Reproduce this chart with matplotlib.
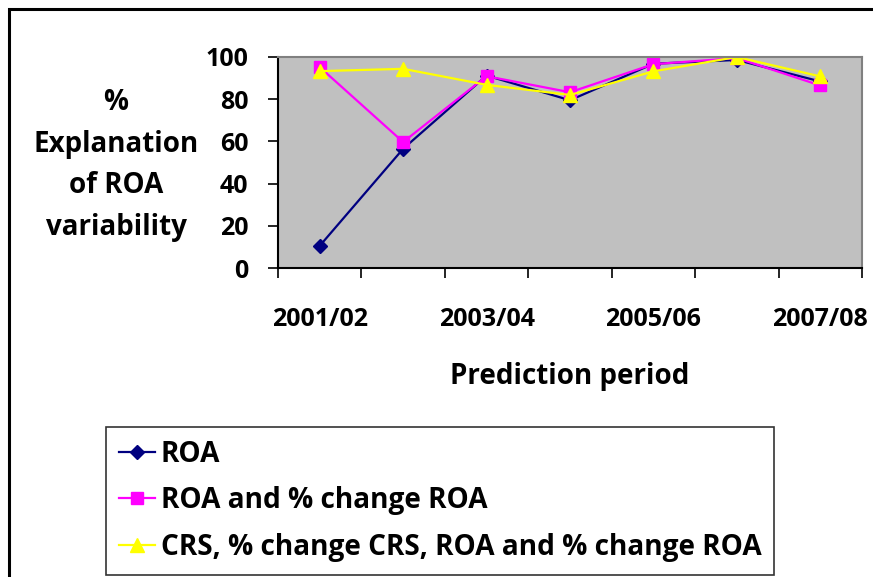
import numpy as np
import matplotlib
matplotlib.use("Agg")
import matplotlib.pyplot as plt
from matplotlib.patches import Rectangle

plt.rcParams['font.family'] = ['Open Sans', 'DejaVu Sans']
plt.rcParams['font.weight'] = 'bold'

periods = ["2001/02", "2002/03", "2003/04", "2004/05", "2005/06", "2006/07", "2007/08"]
shown_labels = ["2001/02", "", "2003/04", "", "2005/06", "", "2007/08"]
roa = [10.5, 56.5, 91.2, 79.5, 96.8, 98.6, 88.4]
roa_change = [95.2, 59.7, 90.9, 83.3, 96.6, 99.5, 86.5]
crs_all = [93.3, 94.4, 86.8, 82.0, 93.2, 100.0, 90.8]
series_names = ["ROA", "ROA and % change ROA",
                "CRS, % change CRS, ROA and % change ROA"]

fig = plt.figure(figsize=(8.73, 5.77), dpi=100)

# chart border (cropped at right and bottom like the original)
fig.patches.append(Rectangle((9 / 873, -0.05), 1.2, 1 - 9 / 577 + 0.05,
                             transform=fig.transFigure, fill=False,
                             edgecolor='black', linewidth=2.2))

ax = fig.add_axes([278 / 873, 1 - 268 / 577, (862 - 278) / 873, (268 - 57) / 577])
ax.set_facecolor('#C0C0C0')

x = np.arange(len(periods))
ax.plot(x, roa, color='#000080', marker='D', markersize=7, linewidth=1.6,
        label=series_names[0])
ax.plot(x, roa_change, color='#FF00FF', marker='s', markersize=9, linewidth=1.6,
        label=series_names[1])
ax.plot(x, crs_all, color='#FFFF00', marker='^', markersize=10, linewidth=1.6,
        label=series_names[2])

ax.set_xlim(-0.5, len(periods) - 0.5)
ax.set_ylim(0, 100)
ax.set_yticks([0, 20, 40, 60, 80, 100])
ax.set_xticks(np.arange(-0.5, len(periods), 1.0))
ax.set_xticklabels([])
ax.set_xticks(x, minor=True)
ax.set_xticklabels(shown_labels, minor=True)
ax.tick_params(axis='x', which='major', length=7.5, width=1.2, direction='out')
ax.tick_params(axis='x', which='minor', length=0, pad=28, labelsize=18)
ax.tick_params(axis='y', length=7.5, width=1.2, direction='out', labelsize=18, pad=14)
for lbl in ax.get_xticklabels(minor=True) + ax.get_yticklabels():
    lbl.set_fontweight('bold')

for side in ['top', 'right']:
    ax.spines[side].set_color('#808080')
    ax.spines[side].set_linewidth(1.5)
for side in ['left', 'bottom']:
    ax.spines[side].set_color('black')
    ax.spines[side].set_linewidth(1.5)

ax.set_xlabel("Prediction period", fontsize=20, fontweight='bold', labelpad=22)

fig.text(116 / 873, 1 - 165 / 577, "%\nExplanation\nof ROA\nvariability",
         ha='center', va='center', fontsize=20, fontweight='bold', linespacing=1.59)

leg = fig.legend(loc='upper left', bbox_to_anchor=(106 / 873, 1 - 427 / 577),
                 frameon=True, fancybox=False, fontsize=20.2, handlelength=1.3,
                 handletextpad=0.2, borderpad=0.45, labelspacing=0.63,
                 borderaxespad=0)
leg.get_frame().set_edgecolor('black')
leg.get_frame().set_linewidth(1.2)
for t in leg.get_texts():
    t.set_fontweight('bold')

fig.savefig("out.png", dpi=100)
